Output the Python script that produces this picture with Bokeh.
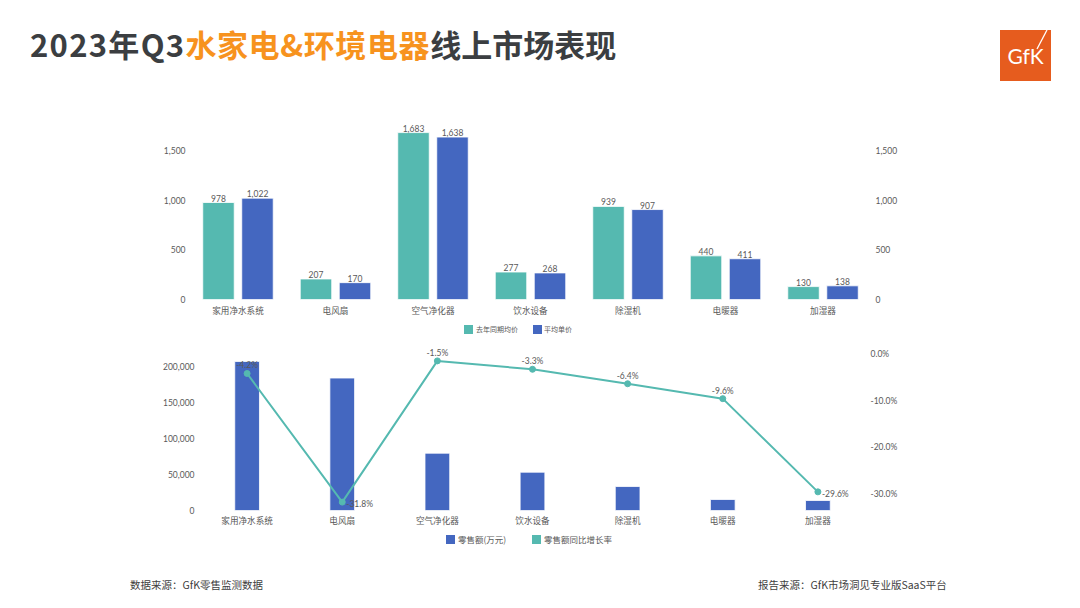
from bokeh.plotting import figure
from bokeh.models import (Range1d, LinearAxis, FixedTicker, NumeralTickFormatter,
                          ColumnDataSource, Div)
from bokeh.layouts import column
from bokeh.embed import file_html
from bokeh.resources import INLINE
from bokeh.core.properties import value
from bokeh.transform import dodge

# ---------------- data ----------------
categories = ["家用净水系统", "电风扇", "空气净化器", "饮水设备", "除湿机", "电暖器", "加湿器"]
price_last_year = [978, 207, 1683, 277, 939, 440, 130]      # 去年同期均价
price_avg = [1022, 170, 1638, 268, 907, 411, 138]           # 平均单价
sales = [207000, 184000, 79600, 53200, 33300, 15300, 13900]  # 零售额(万元)
sales_yoy = [-4.2, -31.8, -1.5, -3.3, -6.4, -9.6, -29.6]    # 零售额同比增长率 (%)
price_ticks = [0, 500, 1000, 1500]
sales_ticks = [0, 50000, 100000, 150000, 200000]
yoy_ticks = [0, -10, -20, -30]
series_top = ["去年同期均价", "平均单价"]
series_bot = ["零售额(万元)", "零售额同比增长率"]
yoy_label_side = ["above", "right", "above", "above", "above", "above", "right"]

TEAL = "#55B9B0"
BLUE = "#4467C0"
GRAY = "#595959"
DARK = "#3B3E41"
ORANGE = "#F7931E"
CJK = "Noto Sans CJK SC"
NUM = "Lato"
W = 1064


def style_axis(ax, font, size, standoff):
    ax.axis_line_color = None
    ax.major_tick_line_color = None
    ax.minor_tick_line_color = None
    ax.major_tick_out = 0
    ax.major_tick_in = 0
    ax.minor_tick_out = 0
    ax.minor_tick_in = 0
    ax.major_label_text_font = font
    ax.major_label_text_font_size = size
    ax.major_label_text_color = GRAY
    ax.major_label_standoff = standoff


def make_div(html, height):
    return Div(text=html, width=W, height=height, margin=0,
               styles={"margin": "0", "padding": "0", "overflow": "hidden"})


def legend_div(height, top, size, entries):
    # entries: (label, color, square_left, text_left) in px inside the strip
    parts = []
    for label, color, sq, tx in entries:
        parts.append(f'<div style="position:absolute;left:{sq}px;top:{top}px;width:9px;height:9px;'
                     f'background:{color};"></div>')
        parts.append(f'<div style="position:absolute;left:{tx}px;top:{top - 2}px;line-height:13px;">'
                     f'{label}</div>')
    html = (f'<div style="position:relative;width:{W}px;height:{height}px;overflow:hidden;'
            f"font-family:'{CJK}';font-size:{size};color:{GRAY};white-space:nowrap;\">"
            + "".join(parts) + "</div>")
    return make_div(html, height)


# ---------------- header ----------------
header_html = (
    f'<div style="position:relative;width:{W}px;height:100px;overflow:hidden;">'
    f'<div style="position:absolute;left:22px;top:14px;line-height:44px;white-space:nowrap;'
    f"font-family:'{CJK}';font-weight:bold;font-size:31px;color:{DARK};\">"
    f'<span style="letter-spacing:1.3px;">2023年Q3</span>'
    f'<span style="color:{ORANGE};letter-spacing:0.6px;">水家电&amp;环境电器</span>'
    f'<span>线上市场表现</span></div>'
    f'<div style="position:absolute;left:992px;top:22px;width:51px;height:51px;background:#E65C1E;">'
    f'<div style="position:absolute;left:0;top:0;width:51px;line-height:51px;text-align:center;'
    f"font-family:'Lato';font-size:21px;color:white;\">GfK</div>"
    f'<svg style="position:absolute;left:0;top:0;" width="51" height="51">'
    f'<line x1="37" y1="19" x2="47" y2="0" stroke="white" stroke-width="1.3"/></svg>'
    f'</div></div>')
header = make_div(header_html, 100)

# ---------------- top chart: prices ----------------
xs = list(range(len(categories)))
src_top = ColumnDataSource(dict(
    x=xs, last=price_last_year, avg=price_avg,
    last_lbl=[f"{v:,}" for v in price_last_year],
    avg_lbl=[f"{v:,}" for v in price_avg]))

top = figure(width=W, height=210, x_range=Range1d(-0.487, 6.487), y_range=Range1d(0, 1805),
             toolbar_location=None, output_backend="svg", x_axis_type=None, y_axis_type=None,
             min_border_left=182, min_border_right=202, min_border_top=12, min_border_bottom=19,
             outline_line_color=None, margin=0)
xa = LinearAxis(ticker=FixedTicker(ticks=xs),
                major_label_overrides={i: c for i, c in enumerate(categories)})
style_axis(xa, CJK, "8.6px", 4)
top.add_layout(xa, "below")
for side in ("left", "right"):
    ya = LinearAxis(ticker=FixedTicker(ticks=price_ticks), formatter=NumeralTickFormatter(format="0,0"))
    style_axis(ya, NUM, "8.5px", 5)
    top.add_layout(ya, side)

top.vbar(x=dodge("x", -0.2), top="last", width=0.323, source=src_top,
         fill_color=TEAL, line_color="white", line_width=0.8)
top.vbar(x=dodge("x", 0.2), top="avg", width=0.323, source=src_top,
         fill_color=BLUE, line_color="white", line_width=0.8)
top.text(x=dodge("x", -0.2), y="last", text="last_lbl", source=src_top, text_align="center",
         text_baseline="bottom", y_offset=-1, text_font=value(NUM), text_font_size="8.5px",
         text_color=GRAY)
top.text(x=dodge("x", 0.2), y="avg", text="avg_lbl", source=src_top, text_align="center",
         text_baseline="bottom", y_offset=-1, text_font=value(NUM), text_font_size="8.5px",
         text_color=GRAY)

leg_top = legend_div(22, 7, "7px", [(series_top[0], TEAL, 456, 468),
                                    (series_top[1], BLUE, 524.7, 536)])

# ---------------- bottom chart: sales ----------------
side_map = {"above": (0, -3, "center", "bottom"), "right": (4, 2, "left", "middle")}
src_bot = ColumnDataSource(dict(
    x=xs, sales=sales, yoy=[v / 100 for v in sales_yoy],
    yoy_lbl=[f"{v:.1f}%" for v in sales_yoy],
    xo=[side_map[s][0] for s in yoy_label_side],
    yo=[side_map[s][1] for s in yoy_label_side],
    al=[side_map[s][2] for s in yoy_label_side],
    bl=[side_map[s][3] for s in yoy_label_side]))

bot = figure(width=W, height=188, x_range=Range1d(-0.595, 6.553), y_range=Range1d(0, 230556),
             toolbar_location=None, output_backend="svg", x_axis_type=None, y_axis_type=None,
             min_border_left=182, min_border_right=202, min_border_top=4, min_border_bottom=18,
             outline_line_color=None, margin=0)
bot.extra_y_ranges = {"pct": Range1d(-0.336, 0.0202)}
xb = LinearAxis(ticker=FixedTicker(ticks=xs),
                major_label_overrides={i: c for i, c in enumerate(categories)})
style_axis(xb, CJK, "8.6px", 3)
bot.add_layout(xb, "below")
yl = LinearAxis(ticker=FixedTicker(ticks=sales_ticks), formatter=NumeralTickFormatter(format="0,0"))
style_axis(yl, NUM, "8.5px", -4)
bot.add_layout(yl, "left")
yr = LinearAxis(y_range_name="pct", ticker=FixedTicker(ticks=[t / 100 for t in yoy_ticks]),
                formatter=NumeralTickFormatter(format="0.0%"))
style_axis(yr, NUM, "8.5px", 0)
bot.add_layout(yr, "right")

bot.vbar(x="x", top="sales", width=0.26, source=src_bot, fill_color=BLUE,
         line_color="white", line_width=0.8)
bot.line(x="x", y="yoy", source=src_bot, y_range_name="pct", line_color=TEAL, line_width=2)
bot.scatter(x="x", y="yoy", source=src_bot, y_range_name="pct", size=6, fill_color=TEAL,
            line_color=TEAL)
bot.text(x="x", y="yoy", text="yoy_lbl", source=src_bot, y_range_name="pct", x_offset="xo",
         y_offset="yo", text_align="al", text_baseline="bl", text_font=value(NUM),
         text_font_size="8.5px", text_color=GRAY)

leg_bot = legend_div(24, 7, "8.5px", [(series_bot[0], BLUE, 438, 450),
                                      (series_bot[1], TEAL, 524, 536)])

# ---------------- footer ----------------
footer_html = (
    f'<div style="position:relative;width:{W}px;height:48px;overflow:hidden;'
    f"font-family:'{CJK}';font-size:10.5px;color:#404040;white-space:nowrap;\">"
    f'<div style="position:absolute;left:122px;top:25px;line-height:16px;">数据来源：GfK零售监测数据</div>'
    f'<div style="position:absolute;left:750px;top:25px;line-height:16px;">报告来源：GfK市场洞见专业版SaaS平台</div>'
    f'</div>')
footer = make_div(footer_html, 48)

layout = column(header, top, leg_top, bot, leg_bot, footer, spacing=0, margin=(8, 0, 0, 8))
open("out.html", "w").write(file_html(layout, INLINE))
